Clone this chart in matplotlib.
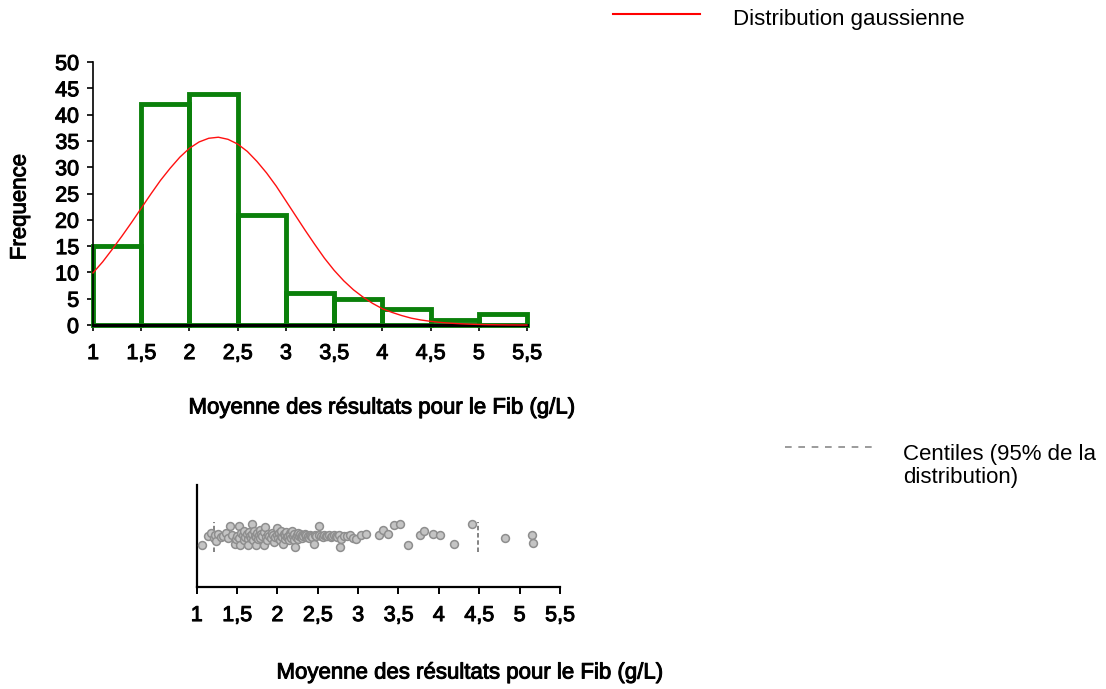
import matplotlib.pyplot as plt
import matplotlib.patheffects as pe
from matplotlib.lines import Line2D

plt.rcParams['font.family'] = ['Liberation Sans', 'DejaVu Sans']

# Histogramme : bornes gauches des classes et effectifs
classes_gauche = [1.0, 1.5, 2.0, 2.5, 3.0, 3.5, 4.0, 4.5, 5.0]
effectifs = [15, 42, 44, 21, 6, 5, 3, 1, 2]

# Courbe gaussienne ajustée (valeurs relevées tous les 0,1 g/L)
gauss_x = [1.0, 1.1, 1.2, 1.3, 1.4, 1.5, 1.6, 1.7, 1.8, 1.9,
           2.0, 2.1, 2.2, 2.3, 2.4, 2.5, 2.6, 2.7, 2.8, 2.9,
           3.0, 3.1, 3.2, 3.3, 3.4, 3.5, 3.6, 3.7, 3.8, 3.9,
           4.0, 4.1, 4.2, 4.3, 4.4, 4.5, 4.6, 4.7, 4.8, 4.9,
           5.0, 5.1, 5.2, 5.3, 5.4, 5.5]
gauss_y = [9.9, 12.0, 14.4, 16.9, 19.5, 22.2, 24.9, 27.5, 29.8, 31.9,
           33.6, 34.8, 35.5, 35.7, 35.3, 34.4, 33.0, 31.1, 28.9, 26.4,
           23.6, 20.8, 18.0, 15.3, 12.7, 10.4, 8.4, 6.7, 5.3, 4.1,
           3.1, 2.4, 1.8, 1.3, 0.95, 0.7, 0.5, 0.35, 0.24, 0.16,
           0.1, 0.06, 0.04, 0.02, 0.01, 0.0]

# Résultats individuels (moyenne Fib) et décalage vertical des points
fib = [1.06, 1.14, 1.18, 1.21, 1.23, 1.24, 1.27, 1.30, 1.33, 1.36, 1.39, 1.41, 1.44, 1.47, 1.49,
       1.50, 1.52, 1.53, 1.54, 1.55, 1.57, 1.58, 1.59, 1.60, 1.62,
       1.63, 1.64, 1.65, 1.66, 1.67, 1.68, 1.69, 1.70, 1.71, 1.72,
       1.73, 1.74, 1.75, 1.76, 1.77, 1.78, 1.79, 1.80, 1.81, 1.83,
       1.84, 1.85, 1.86, 1.87, 1.88, 1.90, 1.92, 1.93, 1.95, 1.96,
       1.97, 1.99,
       2.00, 2.01, 2.02, 2.03, 2.04, 2.05, 2.06, 2.07, 2.08, 2.09,
       2.10, 2.11, 2.12, 2.13, 2.14, 2.15, 2.16, 2.17, 2.18, 2.19,
       2.20, 2.21, 2.22, 2.23, 2.24, 2.25, 2.26, 2.27, 2.28, 2.29,
       2.30, 2.31, 2.32, 2.34, 2.35, 2.36, 2.38, 2.39, 2.40, 2.42,
       2.43, 2.45, 2.46, 2.48,
       2.51, 2.52, 2.54, 2.56, 2.58, 2.60, 2.62, 2.64, 2.66, 2.68,
       2.70, 2.72, 2.74, 2.76, 2.78, 2.79, 2.82, 2.86, 2.90, 2.94, 2.97,
       3.04, 3.10, 3.26, 3.31, 3.37, 3.45,
       3.52, 3.62, 3.77, 3.82, 3.93,
       4.01, 4.19, 4.41,
       4.82,
       5.15, 5.17]
decalage = [0.41, 0.50, 0.53, 0.48, 0.51, 0.45, 0.52, 0.49, 0.50, 0.53, 0.48, 0.60, 0.51, 0.42, 0.47,
            0.50, 0.60, 0.48, 0.41, 0.53, 0.51, 0.46, 0.55, 0.49, 0.52,
            0.47, 0.41, 0.54, 0.50, 0.48, 0.62, 0.52, 0.46, 0.55, 0.50,
            0.49, 0.41, 0.53, 0.47, 0.51, 0.56, 0.48, 0.52, 0.50, 0.41,
            0.54, 0.59, 0.49, 0.46, 0.52, 0.50, 0.48, 0.53, 0.51, 0.44,
            0.49, 0.58,
            0.51, 0.48, 0.53, 0.46, 0.50, 0.55, 0.49, 0.42, 0.52, 0.47,
            0.51, 0.54, 0.49, 0.50, 0.46, 0.53, 0.51, 0.48, 0.55, 0.50,
            0.46, 0.52, 0.39, 0.49, 0.51, 0.53, 0.47, 0.50, 0.52, 0.49,
            0.51, 0.48, 0.50, 0.52, 0.49, 0.51, 0.50, 0.48, 0.51, 0.50,
            0.49, 0.42, 0.51, 0.50,
            0.60, 0.51, 0.50, 0.49, 0.51, 0.50, 0.50, 0.51, 0.49, 0.50,
            0.51, 0.50, 0.49, 0.51, 0.39, 0.47, 0.50, 0.50, 0.51, 0.48, 0.47,
            0.51, 0.52, 0.51, 0.56, 0.52, 0.61,
            0.62, 0.41, 0.51, 0.55, 0.52,
            0.51, 0.42, 0.62,
            0.48,
            0.51, 0.43]
centiles = [1.22, 4.49]

graduations_x = [1, 1.5, 2, 2.5, 3, 3.5, 4, 4.5, 5, 5.5]
etiquettes_x = ["1", "1,5", "2", "2,5", "3", "3,5", "4", "4,5", "5", "5,5"]
graduations_y = [0, 5, 10, 15, 20, 25, 30, 35, 40, 45, 50]

W, H = 1106, 689
fig = plt.figure(figsize=(W / 100, H / 100), dpi=100)

# trait un peu plus épais pour le texte des axes
gras = [pe.withStroke(linewidth=0.7, foreground='black')]

# --- histogramme ---
ax = fig.add_axes([93 / W, 1 - 325 / H, 434 / W, 263 / H])
ax.bar(classes_gauche, effectifs, width=0.5, align='edge', fill=False,
       edgecolor='#0a800a', linewidth=3.5, clip_on=False, zorder=2)
ax.plot([1, 5.5], [0, 0], color='black', linewidth=2.2, clip_on=False, zorder=3)
ax.plot(gauss_x, gauss_y, color='#ff1010', linewidth=1.0, clip_on=False, zorder=4)
ax.set_xlim(1, 5.5)
ax.set_ylim(0, 50)
ax.set_xticks(graduations_x)
ax.set_xticklabels(etiquettes_x)
ax.set_yticks(graduations_y)
for s in ['top', 'right', 'bottom']:
    ax.spines[s].set_visible(False)
ax.spines['left'].set_linewidth(1.2)
ax.tick_params(axis='both', labelsize=15.5, length=4, width=1.2, color='black')
ax.tick_params(axis='x', pad=9)
ax.tick_params(axis='y', pad=6)
for t in ax.get_xticklabels() + ax.get_yticklabels():
    t.set_path_effects(gras)
ax.patch.set_alpha(0)

fig.text(20 / W, 1 - 207 / H, "Frequence", rotation=90, ha='center', va='center',
         fontsize=16, path_effects=gras)
fig.text(382 / W, 1 - 408 / H, "Moyenne des résultats pour le Fib (g/L)",
         ha='center', va='center', fontsize=16, path_effects=gras)

# --- répartition des valeurs individuelles ---
ax2 = fig.add_axes([196.7 / W, 1 - 587 / H, 363.2 / W, 102 / H])
ax2.scatter(fib, decalage, s=32, facecolor='#c4c4c4', edgecolor='#8e8e8e',
            linewidths=1.1, zorder=3)
for c in centiles:
    ax2.plot([c, c], [0.34, 0.64], color='#7a7a7a', linewidth=1.3,
             linestyle=(0, (2.5, 1.5)), zorder=2)
ax2.set_xlim(1, 5.5)
ax2.set_ylim(0, 1)
ax2.set_xticks(graduations_x)
ax2.set_xticklabels(etiquettes_x)
ax2.set_yticks([])
for s in ['top', 'right']:
    ax2.spines[s].set_visible(False)
ax2.spines['left'].set_linewidth(1.6)
ax2.spines['bottom'].set_linewidth(1.6)
ax2.tick_params(axis='x', labelsize=15.5, length=5, width=1.4, pad=8)
for t in ax2.get_xticklabels():
    t.set_path_effects(gras)
ax2.patch.set_alpha(0)

fig.text(470 / W, 1 - 673 / H, "Moyenne des résultats pour le Fib (g/L)",
         ha='center', va='center', fontsize=16, path_effects=gras)

# --- légendes ---
fig.add_artist(Line2D([613 / W, 700 / W], [1 - 14 / H, 1 - 14 / H],
                      color='#ff0000', linewidth=1.5))
fig.text(733 / W, 1 - 19 / H, "Distribution gaussienne", ha='left', va='center', fontsize=16)

fig.add_artist(Line2D([785 / W, 872 / W], [1 - 447 / H, 1 - 447 / H],
                      color='#8a8a8a', linewidth=1.2, linestyle=(0, (4, 4))))
fig.text(903 / W, 1 - 466 / H, "Centiles (95% de la\ndistribution)", ha='left',
         va='center', fontsize=16, linespacing=1.15)

fig.savefig("out.png", dpi=100)
